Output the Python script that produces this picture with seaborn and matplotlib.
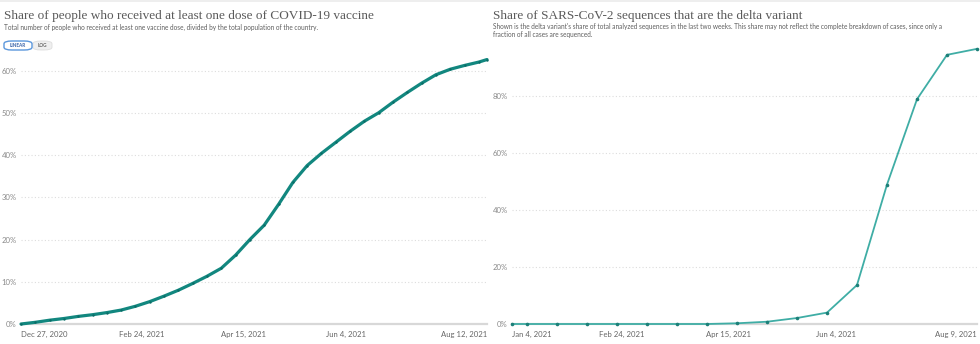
import matplotlib
matplotlib.use("Agg")
import matplotlib.pyplot as plt
import pandas as pd
import seaborn as sns
from matplotlib.patches import FancyBboxPatch, Rectangle

# Share of people with at least one vaccine dose (%)
vax_dates = [
    "2020-12-27", "2021-01-03", "2021-01-10", "2021-01-17", "2021-01-24",
    "2021-01-31", "2021-02-07", "2021-02-14", "2021-02-21", "2021-02-28",
    "2021-03-07", "2021-03-14", "2021-03-21", "2021-03-28", "2021-04-04",
    "2021-04-11", "2021-04-18", "2021-04-25", "2021-05-02", "2021-05-09",
    "2021-05-16", "2021-05-23", "2021-05-30", "2021-06-06", "2021-06-13",
    "2021-06-20", "2021-06-27", "2021-07-04", "2021-07-11", "2021-07-18",
    "2021-07-25", "2021-08-01", "2021-08-08", "2021-08-12",
]
vax_share = [
    0.0, 0.4, 0.9, 1.3, 1.8,
    2.2, 2.7, 3.3, 4.2, 5.3,
    6.6, 8.0, 9.6, 11.3, 13.2,
    16.3, 20.0, 23.4, 28.3, 33.5,
    37.5, 40.4, 43.0, 45.6, 48.0,
    50.0, 52.5, 54.8, 57.0, 59.0,
    60.3, 61.2, 62.0, 62.6,
]

# Delta variant share of sequences (%)
delta_dates = [
    "2021-01-04", "2021-01-11", "2021-01-25", "2021-02-08", "2021-02-22",
    "2021-03-08", "2021-03-22", "2021-04-05", "2021-04-19", "2021-05-03",
    "2021-05-17", "2021-05-31", "2021-06-14", "2021-06-28", "2021-07-12",
    "2021-07-26", "2021-08-09",
]
delta_share = [
    0.0, 0.0, 0.0, 0.0, 0.0,
    0.0, 0.0, 0.0, 0.25, 0.8,
    2.1, 4.0, 13.7, 49.0, 79.0,
    94.6, 96.7,
]

vax_ticks = ["2020-12-27", "2021-02-24", "2021-04-15", "2021-06-04", "2021-08-12"]
vax_tick_labels = ["Dec 27, 2020", "Feb 24, 2021", "Apr 15, 2021", "Jun 4, 2021", "Aug 12, 2021"]
delta_ticks = ["2021-01-04", "2021-02-24", "2021-04-15", "2021-06-04", "2021-08-09"]
delta_tick_labels = ["Jan 4, 2021", "Feb 24, 2021", "Apr 15, 2021", "Jun 4, 2021", "Aug 9, 2021"]
vax_yticks = [0, 10, 20, 30, 40, 50, 60]
delta_yticks = [0, 20, 40, 60, 80]

W, H = 980, 344

sns.set_theme(style="white")
plt.rcParams["font.family"] = ["Lato", "DejaVu Sans"]

fig = plt.figure(figsize=(W / 100, H / 100), dpi=100)
fig.patch.set_facecolor("white")


def fx(x):
    return x / W


def fy(y):
    return 1 - y / H


ax1 = fig.add_axes([fx(21), fy(324), (487 - 21) / W, (324 - 57) / H])
ax2 = fig.add_axes([fx(512), fy(324), (977 - 512) / W, (324 - 48) / H])

vax = pd.DataFrame({"date": pd.to_datetime(vax_dates), "share": vax_share})
delta = pd.DataFrame({"date": pd.to_datetime(delta_dates), "share": delta_share})

sns.lineplot(data=vax, x="date", y="share", ax=ax1, color="#12877f",
             linewidth=2.3, marker="o", markersize=1.7, markeredgewidth=0,
             markerfacecolor="#0a6b65", zorder=3, clip_on=False)
sns.lineplot(data=delta, x="date", y="share", ax=ax2, color="#3fada5",
             linewidth=1.3, marker="o", markersize=2.6, markeredgewidth=0,
             markerfacecolor="#1d7f78", zorder=3, clip_on=False)


def style(ax, ticks, labels, yticks, ymax, xlim):
    ax.set_xlim(pd.to_datetime(xlim[0]), pd.to_datetime(xlim[1]))
    ax.set_ylim(0, ymax)
    ax.set_xticks(pd.to_datetime(ticks))
    ax.set_xticklabels(labels)
    ax.set_yticks(yticks)
    ax.set_yticklabels([f"{v}%" for v in yticks])
    for s in ["top", "right", "left"]:
        ax.spines[s].set_visible(False)
    ax.spines["bottom"].set_color("#d8d8d8")
    ax.spines["bottom"].set_linewidth(1.6)
    ax.spines["bottom"].set_zorder(1)
    ax.tick_params(axis="x", length=3, width=0.7, color="#c8c8c8",
                   labelsize=5.6, labelcolor="#666666", pad=2)
    ax.tick_params(axis="y", length=0, labelsize=5.6, labelcolor="#8a8a8a", pad=3)
    for v in yticks[1:]:
        ax.axhline(v, color="#dddddd", lw=0.8, ls=(0, (1, 2)), zorder=0)
    xl = ax.get_xticklabels()
    xl[0].set_horizontalalignment("left")
    xl[-1].set_horizontalalignment("right")
    ax.set_xlabel("")
    ax.set_ylabel("")
    ax.patch.set_alpha(0)


style(ax1, vax_ticks, vax_tick_labels, vax_yticks, 63.2, ("2020-12-27", "2021-08-12"))
style(ax2, delta_ticks, delta_tick_labels, delta_yticks, 97.0, ("2021-01-04", "2021-08-09"))

# faint band along the top edge
fig.add_artist(Rectangle((0, fy(2)), 1, 2 / H, transform=fig.transFigure,
                         facecolor="#eeeeee", edgecolor="none"))

title_kw = dict(family=["Liberation Serif", "DejaVu Serif"], color="#5a5a5a",
                fontsize=9.5, va="center", ha="left")
sub_kw = dict(color="#5f5f5f", fontsize=4.7, va="center", ha="left")

fig.text(fx(4), fy(16), "Share of people who received at least one dose of COVID-19 vaccine", **title_kw)
fig.text(fx(4), fy(27), "Total number of people who received at least one vaccine dose, "
         "divided by the total population of the country.", **sub_kw)

fig.text(fx(493), fy(16), "Share of SARS-CoV-2 sequences that are the delta variant", **title_kw)
fig.text(fx(493), fy(26.5), "Shown is the delta variant's share of total analyzed sequences in the last "
         "two weeks. This share may not reflect the complete breakdown of cases, since only a",
         **sub_kw)
fig.text(fx(493), fy(35), "fraction of all cases are sequenced.", **sub_kw)

# LINEAR / LOG toggle
fig.add_artist(FancyBboxPatch((fx(33), fy(50)), (52 - 33) / W, 9 / H,
                              boxstyle="round,pad=0,rounding_size=0.008",
                              transform=fig.transFigure, facecolor="#efefef",
                              edgecolor="#dddddd", linewidth=0.6))
fig.add_artist(FancyBboxPatch((fx(4), fy(50)), (32 - 4) / W, 9 / H,
                              boxstyle="round,pad=0,rounding_size=0.008",
                              transform=fig.transFigure, facecolor="white",
                              edgecolor="#5b97dc", linewidth=1.0))
fig.text(fx(18), fy(45.5), "LINEAR", color="#3b64a8", fontsize=3.4, ha="center",
         va="center", weight="bold")
fig.text(fx(42.5), fy(45.5), "LOG", color="#666666", fontsize=3.4, ha="center",
         va="center", weight="bold")

fig.savefig("out.png", dpi=100, facecolor="white")
